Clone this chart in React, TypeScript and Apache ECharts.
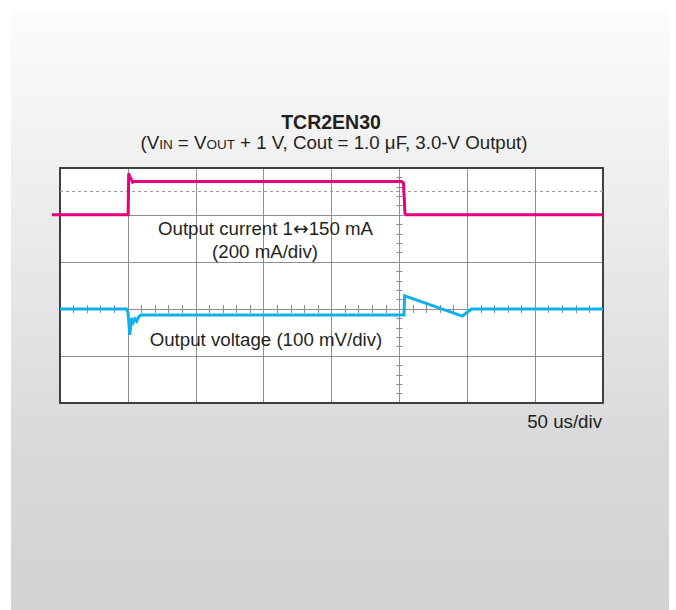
import React, { useEffect, useRef } from 'react';
import * as echarts from 'echarts';

// ---- Data ----
const titleText = 'TCR2EN30';
const subtitleText = '(V{s|IN} = V{s|OUT} + 1 V, Cout = 1.0 μF, 3.0-V Output)';
const currentLabelLines = ['Output current 1{a|↔}150 mA', '(200 mA/div)'];
const voltageLabel = 'Output voltage (100 mV/div)';
const timeScaleLabel = '50 us/div';

// time in microseconds (50 us/div, 8 divisions)
const timeMin = 0;
const timeMax = 400;
const timeDiv = 50;
const centerTime = 250;

// output current in mA (200 mA/div)
const currentMin = -800;
const currentMax = 200;
const currentDiv = 200;
const currentRefLine = 100;
const currentTime = [-6, 50.2, 50.6, 51.5, 52.5, 53.5, 54.5, 251.5, 253.0, 253.6, 254.1, 255.0, 400];
const currentMA = [1, 1, 178, 160, 152, 140, 143, 143, 136, 70, 8, 1, 1];

// output voltage deviation in mV (100 mV/div)
const voltageMin = -200;
const voltageMax = 300;
const voltageDiv = 100;
const voltageTime = [0, 49.0, 50.1, 51.4, 52.8, 54.0, 55.2, 56.5, 57.7, 59.5, 253.4, 253.9, 296.4, 303.2, 400];
const voltageMV = [0, 0, -8, -55, -19, -28, -21, -26, -18, -13, -13, 28, -15, 0, 0];

// vertical divisions of the tick axes
const divMin = 0;
const divMax = 5;

const PLOT_LEFT = 60;
const PLOT_TOP = 168;
const PLOT_W = 543;
const PLOT_H = 235;

const FONT = '"Liberation Sans", Arial, Helvetica, sans-serif';
const TEXT = '#231f20';
const GRID = '#8e8e8e';
const FRAME = '#3f3f3f';
const PINK = '#e5007d';
const CYAN = '#0fb0ec';
const BODY = 18.7;

function tickAxisX(position: 'top' | 'bottom') {
  return {
    type: 'value',
    min: timeMin,
    max: timeMax,
    interval: timeDiv,
    position,
    axisLine: { show: true, onZero: true, onZeroAxisIndex: 1, lineStyle: { color: GRID, width: 1 } },
    axisTick: { show: true, inside: true, length: 4, lineStyle: { color: GRID, width: 1 } },
    minorTick: { show: true, splitNumber: 5, length: 4, lineStyle: { color: GRID, width: 1 } },
    axisLabel: { show: false },
    splitLine: { show: false },
  };
}

function tickAxisY(position: 'left' | 'right') {
  return {
    type: 'value',
    min: divMin,
    max: divMax,
    interval: 1,
    position,
    axisLine: { show: true, onZero: true, onZeroAxisIndex: 3, lineStyle: { color: GRID, width: 1 } },
    axisTick: { show: true, inside: true, length: 3, lineStyle: { color: GRID, width: 1 } },
    minorTick: { show: true, splitNumber: 5, length: 3, lineStyle: { color: GRID, width: 1 } },
    axisLabel: { show: false },
    splitLine: { show: false },
  };
}

function frameX(position: 'top' | 'bottom') {
  return {
    type: 'value',
    min: timeMin,
    max: timeMax,
    position,
    z: 3,
    axisLine: { show: true, onZero: false, lineStyle: { color: FRAME, width: 2 } },
    axisTick: { show: false },
    axisLabel: { show: false },
    splitLine: { show: false },
  };
}

function frameY(position: 'left' | 'right') {
  return {
    type: 'value',
    min: divMin,
    max: divMax,
    position,
    z: 3,
    axisLine: { show: true, onZero: false, lineStyle: { color: FRAME, width: 2 } },
    axisTick: { show: false },
    axisLabel: { show: false },
    splitLine: { show: false },
  };
}

export default function App() {
  const ref = useRef<HTMLDivElement>(null);

  useEffect(() => {
    if (!ref.current) return;
    const chart = echarts.init(ref.current, undefined, { renderer: 'svg' });

    const textBase = { fontFamily: FONT, fill: TEXT, align: 'center', verticalAlign: 'middle' };

    // The current trace starts a little left of the frame (as on the scope capture):
    // a second grid that shares the same time scale but begins at the first sample.
    const pxPerUs = PLOT_W / (timeMax - timeMin);
    const traceStart = currentTime[0];
    const grid2Left = PLOT_LEFT + (traceStart - timeMin) * pxPerUs;
    const grid2Width = PLOT_LEFT + PLOT_W - grid2Left;

    const option: any = {
      animation: false,
      backgroundColor: '#ffffff',
      grid: [
        {
          left: PLOT_LEFT,
          top: PLOT_TOP,
          width: PLOT_W,
          height: PLOT_H,
          show: true,
          backgroundColor: '#ffffff',
          borderWidth: 0,
        },
        {
          left: grid2Left,
          top: PLOT_TOP,
          width: grid2Width,
          height: PLOT_H,
          show: false,
        },
      ],
      xAxis: [
        {
          type: 'value',
          min: timeMin,
          max: timeMax,
          interval: timeDiv,
          position: 'bottom',
          axisLine: { show: false, onZero: false },
          axisTick: { show: false },
          axisLabel: { show: false },
          splitLine: { show: true, lineStyle: { color: GRID, width: 1 } },
        },
        tickAxisX('bottom'),
        tickAxisX('top'),
        {
          type: 'value',
          min: timeMin - centerTime,
          max: timeMax - centerTime,
          show: false,
        },
        frameX('bottom'),
        frameX('top'),
        {
          type: 'value',
          gridIndex: 1,
          min: traceStart,
          max: timeMax,
          show: false,
        },
      ],
      yAxis: [
        {
          type: 'value',
          min: currentMin,
          max: currentMax,
          interval: currentDiv,
          position: 'left',
          axisLine: { show: false, onZero: false },
          axisTick: { show: false },
          axisLabel: { show: false },
          splitLine: { show: true, lineStyle: { color: GRID, width: 1 } },
        },
        {
          type: 'value',
          min: voltageMin,
          max: voltageMax,
          interval: voltageDiv,
          position: 'right',
          show: false,
          splitLine: { show: false },
        },
        tickAxisY('left'),
        tickAxisY('right'),
        frameY('left'),
        frameY('right'),
        {
          type: 'value',
          gridIndex: 1,
          min: currentMin,
          max: currentMax,
          show: false,
        },
      ],
      series: [
        {
          type: 'line',
          name: 'Output current',
          xAxisIndex: 6,
          yAxisIndex: 6,
          data: currentTime.map((t, i) => [t, currentMA[i]]),
          symbol: 'none',
          clip: false,
          z: 5,
          lineStyle: { color: PINK, width: 3, join: 'miter' },
          markLine: {
            silent: true,
            symbol: ['none', 'none'],
            label: { show: false },
            lineStyle: { color: '#9a9a9a', width: 1, type: [3, 3] },
            data: [[{ coord: [timeMin, currentRefLine] }, { coord: [timeMax, currentRefLine] }]],
          },
        },
        {
          type: 'line',
          name: 'Output voltage',
          xAxisIndex: 0,
          yAxisIndex: 1,
          data: voltageTime.map((t, i) => [t, voltageMV[i]]),
          symbol: 'none',
          clip: false,
          z: 5,
          lineStyle: { color: CYAN, width: 3, join: 'miter' },
        },
      ],
      graphic: [
        {
          type: 'rect',
          z: -10,
          silent: true,
          shape: { x: 11, y: 10, width: 658, height: 600 },
          style: {
            fill: new echarts.graphic.LinearGradient(0, 0, 0, 1, [
              { offset: 0, color: '#fcfcfc' },
              { offset: 0.1, color: '#f7f7f7' },
              { offset: 0.45, color: '#e6e7e8' },
              { offset: 0.75, color: '#d7d8da' },
              { offset: 1, color: '#d2d3d5' },
            ]),
          },
        },
        {
          type: 'text',
          z: 10,
          x: 331,
          y: 122,
          style: { ...textBase, text: titleText, fontSize: 19.5, fontWeight: 'bold' },
        },
        {
          type: 'text',
          z: 10,
          x: 334,
          y: 142,
          style: {
            ...textBase,
            text: subtitleText,
            fontSize: BODY,
            rich: {
              s: { fontSize: 13.5, fontFamily: FONT, fill: TEXT, verticalAlign: 'bottom' },
            },
          },
        },
        {
          type: 'text',
          z: 10,
          x: 265.5,
          y: 228,
          style: {
            ...textBase,
            text: currentLabelLines[0],
            fontSize: BODY,
            rich: {
              a: { fontSize: BODY, fontFamily: '"DejaVu Sans", sans-serif', fill: TEXT },
            },
          },
        },
        {
          type: 'text',
          z: 10,
          x: 265,
          y: 251.5,
          style: { ...textBase, text: currentLabelLines[1], fontSize: BODY },
        },
        {
          type: 'text',
          z: 10,
          x: 266,
          y: 339,
          style: { ...textBase, text: voltageLabel, fontSize: BODY },
        },
        {
          type: 'text',
          z: 10,
          x: 602,
          y: 421.5,
          style: { ...textBase, align: 'right', text: timeScaleLabel, fontSize: BODY },
        },
      ],
    };

    chart.setOption(option);
    return () => chart.dispose();
  }, []);

  return (
    <div
      ref={ref}
      style={{ position: 'fixed', left: 0, top: 0, width: 676, height: 610 }}
    />
  );
}
